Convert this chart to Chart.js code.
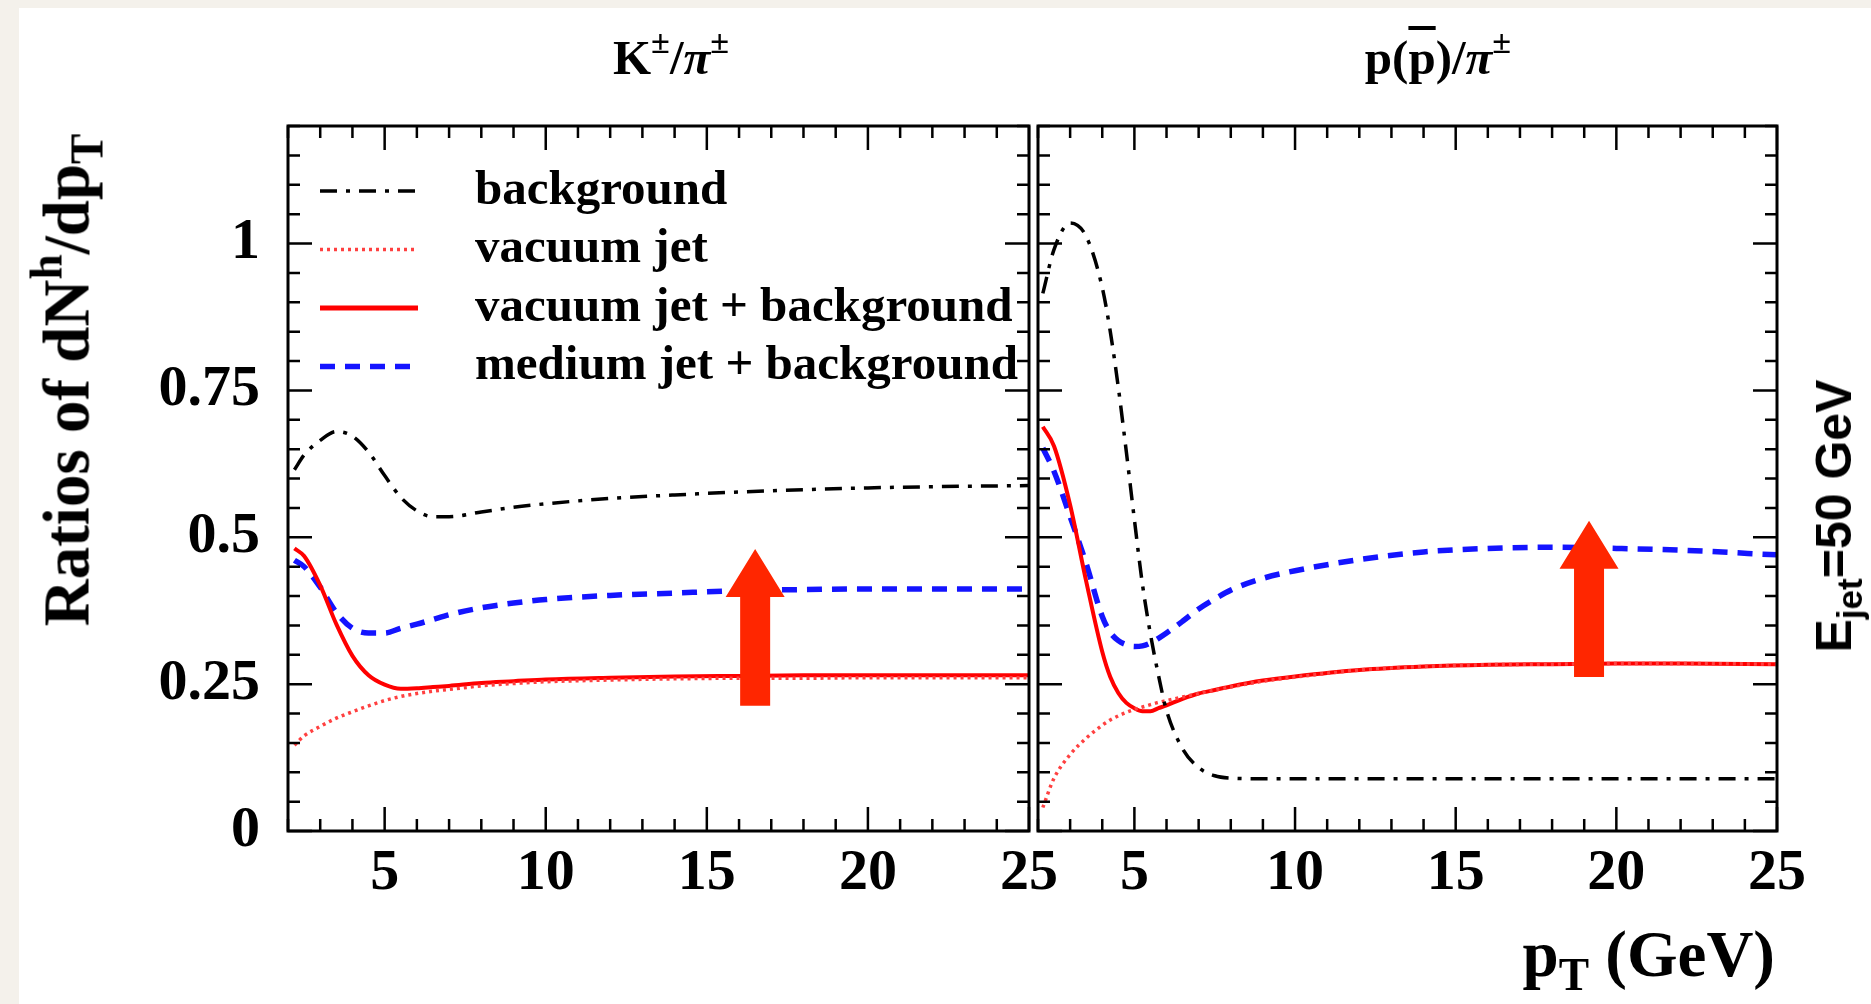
<!DOCTYPE html>
<html>
<head>
<meta charset="utf-8">
<script src="https://cdn.jsdelivr.net/npm/chart.js@4.4.1/dist/chart.umd.min.js"></script>
<style>
  html, body { margin: 0; padding: 0; }
  body { width: 1871px; height: 1004px; background: #f4f1eb; position: relative; overflow: hidden; }
  .sheet { position: absolute; left: 19px; top: 8px; right: 0; bottom: 0; background: #fff; }
  .plot { position: absolute; left: 0; top: 0; width: 1871px; height: 1004px; }
  .label { position: absolute; white-space: nowrap; color: #000; line-height: 1; font-family: 'Liberation Serif', 'Times New Roman', serif; font-weight: bold; }
  .label sup, .label sub { font-size: 70%; line-height: 0; position: relative; vertical-align: baseline; }
  .label sup { top: -0.6em; }
  .label sub { top: 0.3em; }
  .bar { text-decoration: overline; }
  .sans { font-family: 'Liberation Sans', Arial, sans-serif; }
</style>
</head>
<body>
<div class="sheet"></div>
<div class="plot"><canvas id="kaonChart"></canvas></div>
<div class="plot"><canvas id="protonChart"></canvas></div>
<div class="label" style="left:671px; top:33px; font-size:49px; transform:translateX(-50%);">K<sup>±</sup>/<i>π</i><sup>±</sup></div>
<div class="label" style="left:1438px; top:33px; font-size:49px; transform:translateX(-50%);">p(<span class="bar">p</span>)/<i>π</i><sup>±</sup></div>
<div class="label" style="left:67px; top:380px; font-size:65px; transform:translate(-50%,-50%) rotate(-90deg);">Ratios of dN<sup>h</sup>/dp<sub>T</sub></div>
<div class="label sans" style="left:1834px; top:516px; font-size:50px; transform:translate(-50%,-50%) rotate(-90deg);">E<sub>jet</sub>=50 GeV</div>
<div class="label" style="right:96px; top:922px; font-size:65px;">p<sub>T</sub> (GeV)</div>
<script>
const xTickLabels = [5, 10, 15, 20, 25];
const yTickLabels = [0, 0.25, 0.5, 0.75, 1];

// K/pi panel
const kaonPt = [2.2, 2.5, 3, 3.5, 4, 4.5, 5, 5.5, 6, 6.5, 7, 8, 9, 10, 12, 14, 16, 18, 20, 22, 25];
const kaonBackground = [0.615, 0.64, 0.665, 0.68, 0.672, 0.645, 0.605, 0.568, 0.545, 0.535, 0.535, 0.543, 0.551, 0.557, 0.566, 0.572, 0.577, 0.581, 0.584, 0.586, 0.588];
const kaonVacuumJet = [0.146, 0.162, 0.178, 0.192, 0.203, 0.213, 0.222, 0.229, 0.234, 0.238, 0.241, 0.247, 0.251, 0.254, 0.257, 0.259, 0.26, 0.26, 0.261, 0.261, 0.261];
const kaonVacuumJetBkg = [0.481, 0.468, 0.418, 0.352, 0.298, 0.265, 0.249, 0.242, 0.243, 0.245, 0.247, 0.252, 0.255, 0.258, 0.261, 0.263, 0.264, 0.265, 0.265, 0.265, 0.265];
const kaonMediumJetBkg = [0.461, 0.45, 0.415, 0.372, 0.345, 0.337, 0.337, 0.345, 0.352, 0.36, 0.368, 0.38, 0.388, 0.394, 0.401, 0.405, 0.409, 0.411, 0.412, 0.412, 0.412];

// p/pi panel
const protonPt = [2.15, 2.5, 3, 3.5, 4, 4.25, 4.5, 4.75, 5, 5.25, 5.5, 5.75, 6, 6.5, 7, 7.5, 8, 9, 10, 12, 14, 16, 18, 20, 22, 25];
const protonBackground = [0.915, 0.99, 1.035, 1.012, 0.925, 0.85, 0.755, 0.645, 0.53, 0.42, 0.335, 0.265, 0.205, 0.14, 0.108, 0.094, 0.09, 0.089, 0.089, 0.089, 0.089, 0.089, 0.089, 0.089, 0.089, 0.089];
const protonVacuumJet = [0.04, 0.09, 0.13, 0.158, 0.18, 0.189, 0.196, 0.202, 0.207, 0.211, 0.215, 0.219, 0.222, 0.228, 0.234, 0.24, 0.245, 0.255, 0.262, 0.274, 0.28, 0.283, 0.284, 0.285, 0.285, 0.284];
const protonVacuumJetBkg = [0.688, 0.655, 0.555, 0.425, 0.305, 0.262, 0.235, 0.218, 0.209, 0.204, 0.204, 0.209, 0.214, 0.225, 0.234, 0.24, 0.246, 0.256, 0.263, 0.274, 0.28, 0.283, 0.284, 0.285, 0.285, 0.284];
const protonMediumJetBkg = [0.652, 0.612, 0.535, 0.455, 0.365, 0.338, 0.324, 0.317, 0.314, 0.315, 0.32, 0.328, 0.337, 0.357, 0.378, 0.395, 0.41, 0.43, 0.443, 0.462, 0.475, 0.481, 0.483, 0.481, 0.478, 0.47];

// red arrows: [K/pi, p/pi]
const arrowPt = [16.5, 19.15];
const arrowFrom = [0.213, 0.262];
const arrowTo = [0.48, 0.528];

const legendLabels = ['background', 'vacuum jet', 'vacuum jet + background', 'medium jet + background'];
const styles = [
  { borderColor: '#000000', borderWidth: 3.5, borderDash: [17, 9, 4, 9] },
  { borderColor: '#ff4040', borderWidth: 3.5, borderDash: [3, 4] },
  { borderColor: '#ff0000', borderWidth: 4, borderDash: [] },
  { borderColor: '#1414ff', borderWidth: 5.5, borderDash: [15, 10] }
];
const serif = 'Liberation Serif, Times New Roman, serif';

function points(xs, ys) {
  return xs.map((x, i) => ({ x, y: ys[i] }));
}

function datasets(xs, series) {
  return series.map((ys, i) => ({
    label: legendLabels[i],
    data: points(xs, ys),
    ...styles[i],
    pointRadius: 0,
    fill: false,
    cubicInterpolationMode: 'monotone'
  }));
}

function arrowPlugin(index) {
  return {
    id: 'arrow',
    afterDatasetsDraw(chart) {
      const { ctx, scales: { x, y } } = chart;
      const cx = x.getPixelForValue(arrowPt[index]);
      const base = y.getPixelForValue(arrowFrom[index]);
      const tip = y.getPixelForValue(arrowTo[index]);
      const shaft = 15, head = 29.5, headLen = 48;
      ctx.save();
      ctx.fillStyle = '#ff2600';
      ctx.beginPath();
      ctx.moveTo(cx - shaft, base);
      ctx.lineTo(cx - shaft, tip + headLen);
      ctx.lineTo(cx - head, tip + headLen);
      ctx.lineTo(cx, tip);
      ctx.lineTo(cx + head, tip + headLen);
      ctx.lineTo(cx + shaft, tip + headLen);
      ctx.lineTo(cx + shaft, base);
      ctx.closePath();
      ctx.fill();
      ctx.restore();
    }
  };
}

const framePlugin = {
  id: 'frame',
  afterDraw(chart) {
    const { ctx, chartArea: a, scales: { x, y } } = chart;
    ctx.save();
    ctx.strokeStyle = '#000';
    ctx.lineWidth = 2.5;
    ctx.beginPath();
    for (let v = 2; v <= 25; v++) {
      const px = x.getPixelForValue(v);
      const len = v % 5 === 0 ? 24 : 12;
      ctx.moveTo(px, a.bottom); ctx.lineTo(px, a.bottom - len);
      ctx.moveTo(px, a.top); ctx.lineTo(px, a.top + len);
    }
    for (let i = 0; i <= 24; i++) {
      const py = y.getPixelForValue(i * 0.05);
      const len = i % 5 === 0 ? 24 : 12;
      ctx.moveTo(a.left, py); ctx.lineTo(a.left + len, py);
      ctx.moveTo(a.right, py); ctx.lineTo(a.right - len, py);
    }
    ctx.stroke();
    ctx.lineWidth = 3;
    ctx.strokeRect(a.left, a.top, a.right - a.left, a.bottom - a.top);
    ctx.restore();
  }
};

const legendPlugin = {
  id: 'rootLegend',
  afterDraw(chart) {
    const { ctx, chartArea: a } = chart;
    ctx.save();
    ctx.font = `bold 49px ${serif}`;
    ctx.textBaseline = 'middle';
    ctx.fillStyle = '#000';
    chart.data.datasets.forEach((ds, i) => {
      const yy = a.top + 65 + i * 58.5;
      ctx.strokeStyle = ds.borderColor;
      ctx.lineWidth = i === 2 ? 5 : ds.borderWidth;
      ctx.setLineDash(ds.borderDash);
      ctx.beginPath();
      ctx.moveTo(a.left + 32, yy);
      ctx.lineTo(a.left + 130, yy);
      ctx.stroke();
      ctx.fillText(ds.label, a.left + 187, yy);
    });
    ctx.restore();
  }
};

function makeChart(id, xs, series, index, padding, showY, extra) {
  return new Chart(document.getElementById(id), {
    type: 'line',
    data: { datasets: datasets(xs, series) },
    options: {
      responsive: true,
      maintainAspectRatio: false,
      animation: false,
      layout: { padding },
      plugins: { legend: { display: false }, tooltip: { enabled: false } },
      scales: {
        x: {
          type: 'linear',
          min: 2,
          max: 25,
          grid: { display: false, drawTicks: false },
          border: { display: false },
          afterBuildTicks: (scale) => { scale.ticks = xTickLabels.map((value) => ({ value })); },
          afterFit: (scale) => { scale.height = 173; },
          ticks: { autoSkip: false, maxRotation: 0, padding: 8, color: '#000', font: { family: serif, weight: 'bold', size: 58 } }
        },
        y: {
          display: showY,
          min: 0,
          max: 1.2,
          grid: { display: false, drawTicks: false },
          border: { display: false },
          afterBuildTicks: (scale) => { scale.ticks = yTickLabels.map((value) => ({ value })); },
          afterFit: (scale) => { if (showY) scale.width = 288; },
          ticks: { padding: 28, color: '#000', font: { family: serif, weight: 'bold', size: 58 }, callback: (v) => String(v) }
        }
      }
    },
    plugins: [arrowPlugin(index), framePlugin, ...extra]
  });
}

makeChart('kaonChart', kaonPt, [kaonBackground, kaonVacuumJet, kaonVacuumJetBkg, kaonMediumJetBkg], 0,
  { left: 0, right: 842, top: 126, bottom: 0 }, true, [legendPlugin]);
makeChart('protonChart', protonPt, [protonBackground, protonVacuumJet, protonVacuumJetBkg, protonMediumJetBkg], 1,
  { left: 1038, right: 94, top: 126, bottom: 0 }, false, []);
</script>
</body>
</html>
